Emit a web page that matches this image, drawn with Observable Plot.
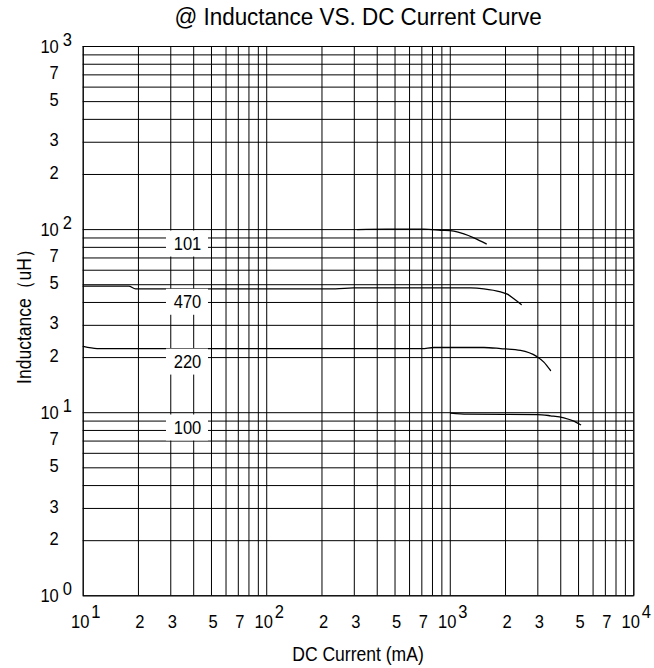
<!DOCTYPE html>
<html>
<head>
<meta charset="utf-8">
<script src="https://cdn.jsdelivr.net/npm/d3@7"></script>
<script src="https://cdn.jsdelivr.net/npm/@observablehq/plot@0.6"></script>
<style>
  html, body { margin: 0; padding: 0; background: white; }
  #chart svg { display: block; }
</style>
</head>
<body>
<div id="chart"></div>
<script>
// ---- data ----
const current101 = [311, 450, 718, 885, 1046, 1186, 1345, 1571];
const L101       = [100, 100.5, 100.5, 99.2, 98.0, 94.8, 90.2, 83.6];

const current470 = [10, 17.7, 19.3, 237, 297, 1291, 1524, 1880, 2046, 2221, 2436];
const L470       = [49.1, 49.1, 47.5, 47.5, 48.0, 48.0, 47.5, 45.7, 44.4, 41.9, 39.0];

const current220 = [10, 11.9, 700, 814, 1524, 1880, 2415, 2953, 3236, 3517];
const L220       = [23.0, 22.4, 22.4, 22.7, 22.7, 22.4, 21.9, 20.3, 18.9, 17.0];

const current100 = [1004, 1239, 2978, 3517, 4160, 4716, 5130];
const L100       = [9.94, 9.81, 9.77, 9.62, 9.38, 8.99, 8.59];

const seriesNames   = ["101", "470", "220", "100"];
const labelCurrent  = [37, 37, 37, 37];
const labelL        = [83.4, 40.1, 18.9, 8.25];

// grid & tick values
const gridMultipliers = [1, 2, 3, 4, 5, 6, 7, 8, 9];
const labelMultipliers = [2, 3, 5, 7];
const xDecades = [10, 100, 1000];
const yDecades = [1, 10, 100];
const xPowers = [10, 100, 1000, 10000];
const xExponents = ["1", "2", "3", "4"];
const yPowers = [1, 10, 100, 1000];
const yExponents = ["0", "1", "2", "3"];

const titleText = "@ Inductance VS. DC Current Curve";
const xLabelText = "DC Current (mA)";
const yLabelText = "Inductance（uH）";

// ---- derived tables ----
const gridX = [...xDecades.flatMap(d => gridMultipliers.map(m => d * m)), xPowers[xPowers.length - 1]];
const gridY = [...yDecades.flatMap(d => gridMultipliers.map(m => d * m)), yPowers[yPowers.length - 1]];
const xDigitTicks = xDecades.flatMap(d => labelMultipliers.map(m => ({v: d * m, m})));
const yDigitTicks = yDecades.flatMap(d => labelMultipliers.map(m => ({v: d * m, m})));
const xPowTicks = xPowers.map((v, i) => ({v, e: xExponents[i]}));
const yPowTicks = yPowers.map((v, i) => ({v, e: yExponents[i]}));

const toRows = (name, xs, ys) => xs.map((x, i) => ({name, x, y: ys[i]}));
const curves = [
  toRows("101", current101, L101),
  toRows("470", current470, L470),
  toRows("220", current220, L220),
  toRows("100", current100, L100)
];
const labels = seriesNames.map((n, i) => ({name: n, x: labelCurrent[i], y: labelL[i]}));

const FONT = "'Liberation Sans', Arial, sans-serif";

const chart = Plot.plot({
  width: 654,
  height: 668,
  marginTop: 46,
  marginBottom: 72.7,
  marginLeft: 82.7,
  marginRight: 20.7,
  style: {fontFamily: FONT, fontSize: "19px", color: "black", background: "white"},
  x: {type: "log", domain: [10, 10000], axis: null},
  y: {type: "log", domain: [1, 1000], axis: null},
  marks: [
    Plot.ruleX(gridX, {stroke: "black", strokeWidth: 1}),
    Plot.ruleY(gridY, {stroke: "black", strokeWidth: 1}),
    Plot.frame({stroke: "black", strokeWidth: 1}),
    ...curves.map(c => Plot.line(c, {x: "x", y: "y", stroke: "black", strokeWidth: 1.3, curve: "monotone-x"})),
    Plot.rect(labels, {x1: "x", x2: "x", y1: "y", y2: "y", fill: "white",
      insetLeft: -21, insetRight: -21, insetTop: -13, insetBottom: -13}),
    Plot.text(labels, {x: "x", y: "y", text: "name", fontSize: 19, fill: "black"}),
    // x-axis tick labels
    Plot.text(xDigitTicks, {x: "v", text: d => String(d.m), frameAnchor: "bottom", lineAnchor: "middle", textAnchor: "middle", dy: 26, dx: 1.5, fontSize: 19}),
    Plot.text(xPowTicks, {x: "v", text: () => "10", frameAnchor: "bottom", lineAnchor: "middle", textAnchor: "middle", dy: 26, dx: -3, fontSize: 19}),
    Plot.text(xPowTicks, {x: "v", text: "e", frameAnchor: "bottom", lineAnchor: "middle", textAnchor: "start", dy: 16.5, dx: 8, fontSize: 19}),
    // y-axis tick labels
    Plot.text(yDigitTicks, {y: "v", text: d => String(d.m), frameAnchor: "left", lineAnchor: "middle", textAnchor: "end", dx: -24.4, dy: -2, fontSize: 19}),
    Plot.text(yPowTicks, {y: "v", text: () => "10", frameAnchor: "left", lineAnchor: "middle", textAnchor: "end", dx: -24.4, dy: 0, fontSize: 19}),
    Plot.text(yPowTicks, {y: "v", text: "e", frameAnchor: "left", lineAnchor: "middle", textAnchor: "start", dx: -20.5, dy: -7, fontSize: 19}),
    // titles
    Plot.text([titleText], {text: d => d, frameAnchor: "top", lineAnchor: "middle", textAnchor: "middle", dy: -29.6, dx: -0.5, fontSize: 24}),
    Plot.text([xLabelText], {text: d => d, frameAnchor: "bottom", lineAnchor: "middle", textAnchor: "middle", dy: 58.7, dx: -0.5, fontSize: 20}),
    Plot.text([yLabelText], {text: d => d, frameAnchor: "left", lineAnchor: "middle", textAnchor: "middle", rotate: -90, dx: -58.7, dy: -9, fontSize: 20})
  ]
});
document.getElementById("chart").appendChild(chart);

// narrow the Arial-metric font horizontally to mimic the condensed face of the reference
const narrow = new Map([[titleText, 0.936], [xLabelText, 0.877], [yLabelText, 0.877]]);
chart.querySelectorAll("text").forEach(t => {
  const s = narrow.get(t.textContent) ?? 0.87;
  const tr = t.getAttribute("transform") || "";
  t.setAttribute("transform", `${tr} scale(${s},1)`);
});
</script>
</body>
</html>
